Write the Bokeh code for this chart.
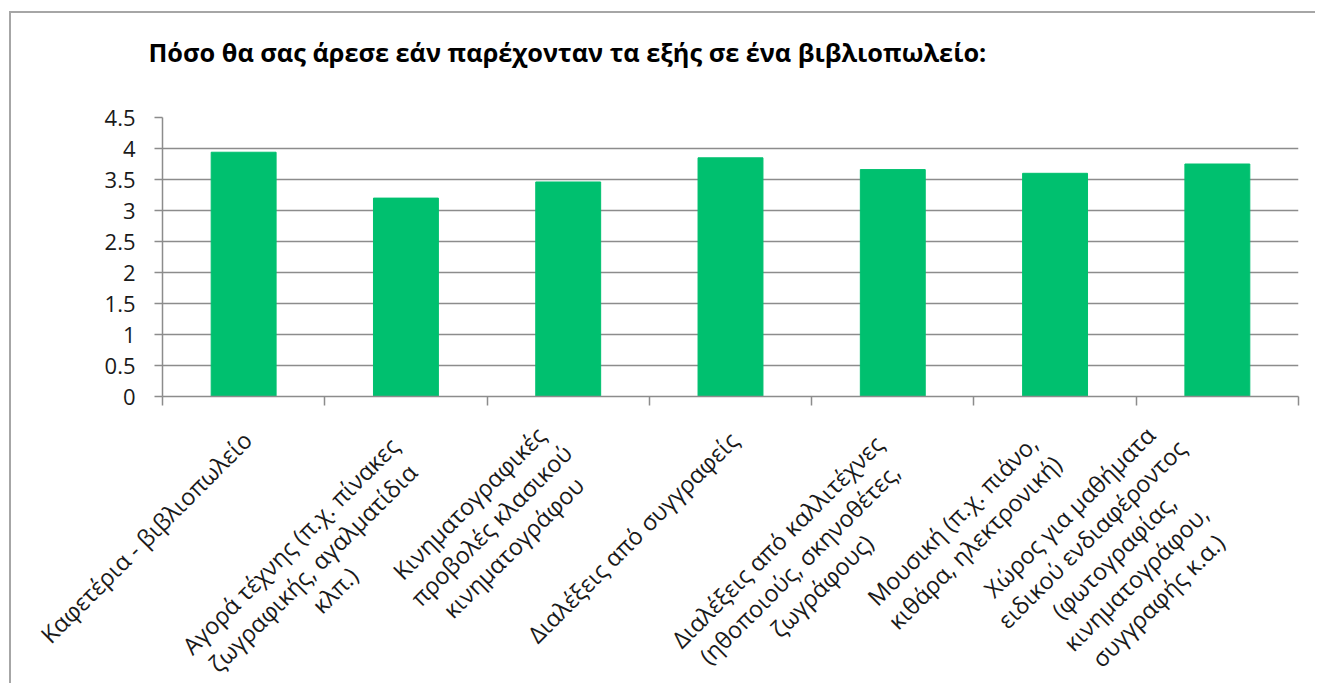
import math
from bokeh.plotting import figure
from bokeh.layouts import column
from bokeh.models import Range1d, FixedTicker, NumeralTickFormatter, ColumnDataSource
from bokeh.core.properties import value
from bokeh.embed import file_html
from bokeh.resources import INLINE

title_text = "Πόσο θα σας άρεσε εάν παρέχονταν τα εξής σε ένα βιβλιοπωλείο:"
categories = [
    "Καφετέρια - βιβλιοπωλείο",
    "Αγορά τέχνης (π.χ. πίνακες\nζωγραφικής, αγαλματίδια\nκλπ.)",
    "Κινηματογραφικές\nπροβολές κλασικού\nκινηματογράφου",
    "Διαλέξεις από συγγραφείς",
    "Διαλέξεις από καλλιτέχνες\n(ηθοποιούς, σκηνοθέτες,\nζωγράφους)",
    "Μουσική (π.χ. πιάνο,\nκιθάρα, ηλεκτρονική)",
    "Χώρος για μαθήματα\nειδικού ενδιαφέροντος\n(φωτογραφίας,\nκινηματογράφου,\nσυγγραφής κ.α.)",
]
values = [3.94, 3.20, 3.46, 3.85, 3.66, 3.60, 3.75]
y_ticks = [0, 0.5, 1, 1.5, 2, 2.5, 3, 3.5, 4, 4.5]

n = len(categories)
xs = [i + 0.5 for i in range(n)]
boundaries = list(range(n + 1))

FONT = "Open Sans"
GRID = "#8c8c8c"
BAR = "#00C06F"
TXT = "#1a1a1a"

# ---- layout constants (pixels) ----
W = 1304
ORIGIN_X, ORIGIN_Y = 11, 13          # canvas origin inside the bordered box
FRAME_L, FRAME_R = 162, 1298         # plot frame, page x
FRAME_T, FRAME_H = 117, 279          # plot frame top, height
BOTTOM1 = 16
H1 = (FRAME_T - ORIGIN_Y) + FRAME_H + BOTTOM1
H2 = 685 - 2 - (ORIGIN_Y + H1)
AXIS_Y = FRAME_T + FRAME_H
P2_TOP = ORIGIN_Y + H1

# ---------------- main plot ----------------
p1 = figure(width=W, height=H1,
            x_range=Range1d(0, n), y_range=Range1d(0, y_ticks[-1]),
            output_backend="svg", toolbar_location=None,
            min_border_left=FRAME_L - ORIGIN_X, min_border_top=FRAME_T - ORIGIN_Y,
            min_border_bottom=BOTTOM1, min_border_right=ORIGIN_X + W - FRAME_R)
p1.outline_line_color = None

p1.title.text = title_text
p1.title.align = "left"
p1.title.offset = -14
p1.title.text_font = FONT
p1.title.text_font_size = "25.3px"
p1.title.text_font_style = "bold"
p1.title.text_color = "#000000"
if "padding" in p1.title.properties():
    p1.title.standoff = 10
    p1.title.padding = dict(left=0, right=0, top=0, bottom=44)
else:
    p1.title.standoff = 60

src = ColumnDataSource(dict(x=xs, top=values))
p1.vbar(x="x", top="top", width=0.4, source=src, fill_color=BAR, line_color=BAR)

xa = p1.xaxis[0]
xa.ticker = FixedTicker(ticks=boundaries)
xa.major_label_overrides = {b: "" for b in boundaries}
xa.major_label_text_font_size = "1px"
xa.major_label_standoff = 0
xa.axis_line_color = GRID
xa.axis_line_width = 1.5
xa.major_tick_line_color = GRID
xa.major_tick_line_width = 1.5
xa.major_tick_out = 9
xa.major_tick_in = 0
xa.minor_tick_line_color = None
p1.xgrid.visible = False

ya = p1.yaxis[0]
ya.ticker = FixedTicker(ticks=y_ticks)
ya.formatter = NumeralTickFormatter(format="0.[0]")
ya.axis_line_color = GRID
ya.axis_line_width = 1.5
ya.major_tick_line_color = GRID
ya.major_tick_line_width = 1.5
ya.major_tick_out = 8
ya.major_tick_in = 0
ya.minor_tick_line_color = None
ya.major_label_text_font = FONT
ya.major_label_text_font_size = "22px"
ya.major_label_text_color = TXT
ya.major_label_standoff = 19
p1.ygrid.grid_line_color = GRID
p1.ygrid.grid_line_width = 1.5

# ---------------- category labels (rotated, multi-line, centred) ----------------
p2 = figure(width=W, height=H2,
            y_range=Range1d(-H2, 0),
            x_axis_type=None, y_axis_type=None,
            output_backend="svg", toolbar_location=None, min_border=0)
p2.outline_line_color = None
p2.grid.visible = False

px_per_cat = (FRAME_R - FRAME_L) / n
if "frame_align" in p2.properties():
    p1.frame_align = False
    p2.frame_align = False
    p2.x_range = Range1d(-(FRAME_L - ORIGIN_X) / px_per_cat,
                         n + (ORIGIN_X + W - FRAME_R) / px_per_cat)
else:
    p2.x_range = p1.x_range

# Excel-like placement: the rotated block's bounding box has its right edge
# just right of the category centre and its top a fixed gap below the axis.
LABEL_PX = 23.5
FONT_HEIGHT = 1.37     # Open Sans ascent+descent, in em (Bokeh's line unit)
CHAR_W = 12.1          # average glyph advance at LABEL_PX
LINE_H = 31.5          # wanted distance between lines
RIGHT_GAP, TOP_GAP = 5, 38
c = math.cos(math.pi / 4)
label_xo, label_y = [], []
for cat in categories:
    lines = cat.split("\n")
    nl = len(lines)
    ends_x, ends_y = [], []
    for i, s in enumerate(lines):
        half = CHAR_W * len(s) / 2
        u = ((nl - 1) / 2 - i) * LINE_H
        ends_x.append(c * (half - u))
        ends_y.append(-c * (half + u))
    label_xo.append(RIGHT_GAP - max(ends_x))
    centre_page_y = AXIS_Y + TOP_GAP - min(ends_y)
    label_y.append(-(centre_page_y - P2_TOP))

lsrc = ColumnDataSource(dict(x=xs, y=label_y, xo=label_xo, text=categories))
p2.text(x="x", y="y", text="text", source=lsrc, x_offset="xo",
        angle=math.pi / 4, text_align="center", text_baseline="middle",
        text_font=value(FONT), text_font_size=f"{LABEL_PX}px",
        text_line_height=LINE_H / (LABEL_PX * FONT_HEIGHT), text_color=TXT)

p = column(p1, p2, spacing=0,
           styles={"border-top": "2px solid #a6a6a6", "border-left": "2px solid #a6a6a6",
                   "margin-top": "11px", "margin-left": "9px"})

open("out.html", "w").write(file_html(p, INLINE))
